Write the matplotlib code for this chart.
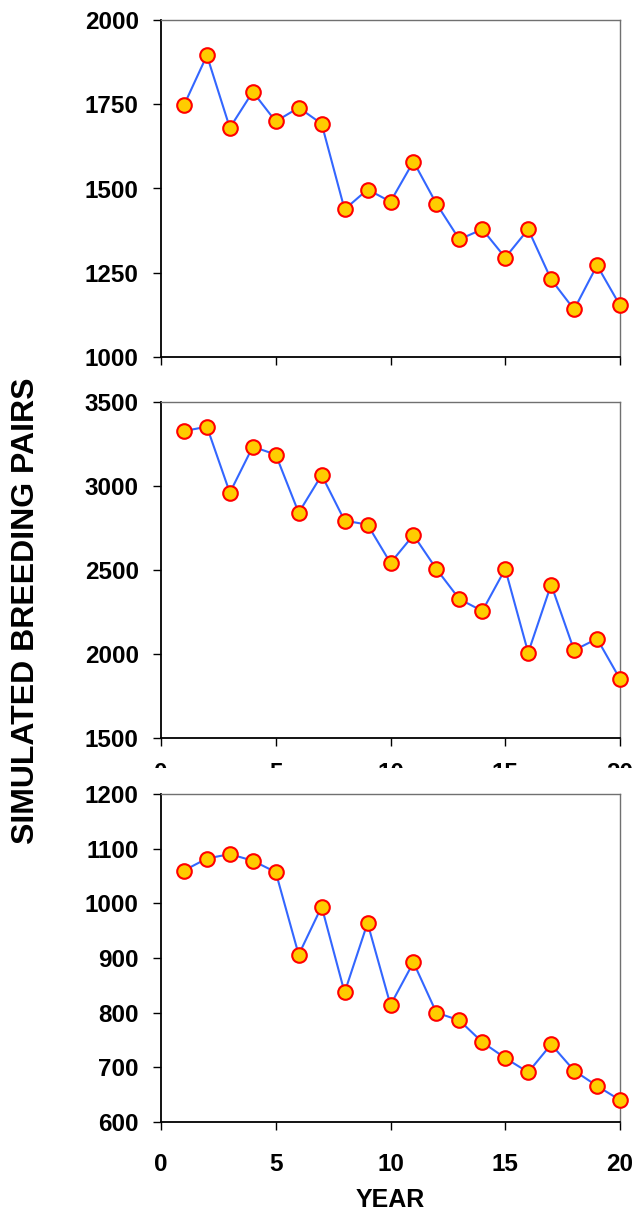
import matplotlib.pyplot as plt
from matplotlib.patches import Rectangle
from matplotlib.ticker import MultipleLocator

plt.rcParams['font.family'] = ['Liberation Sans', 'DejaVu Sans']
plt.rcParams['font.weight'] = 'bold'

years = list(range(1, 21))

pairs_top = [1747, 1895, 1680, 1787, 1699, 1740, 1692, 1438, 1497, 1461,
             1580, 1455, 1349, 1379, 1295, 1379, 1230, 1141, 1272, 1153]
pairs_mid = [3327, 3353, 2960, 3234, 3187, 2841, 3065, 2794, 2770, 2542,
             2708, 2506, 2327, 2256, 2506, 2008, 2413, 2022, 2091, 1851]
pairs_bot = [1060, 1082, 1090, 1078, 1057, 906, 994, 837, 964, 814,
             892, 800, 786, 746, 717, 691, 742, 694, 666, 640]

ylims = [(1000, 2000, 250), (1500, 3500, 500), (600, 1200, 100)]
series = [pairs_top, pairs_mid, pairs_bot]

W, H = 634, 1213
fig = plt.figure(figsize=(W / 100, H / 100), dpi=100)

# panel boxes in pixels: (top, bottom)
boxes = [(20, 357), (402, 738), (794, 1122)]
left, right = 161, 620

for i, ((top, bottom), vals, (lo, hi, step)) in enumerate(zip(boxes, series, ylims)):
    ax = fig.add_axes([left / W, 1 - bottom / H, (right - left) / W, (bottom - top) / H])
    ax.plot(years, vals, color='#3366FF', lw=1.5, zorder=2)
    ax.plot(years, vals, 'o', ms=10.5, mfc='#FFCC00', mec='#FF0000', mew=1.5,
            zorder=3, clip_on=False)
    ax.set_xlim(0, 20)
    ax.set_ylim(lo, hi)
    ax.xaxis.set_major_locator(MultipleLocator(5))
    ax.yaxis.set_major_locator(MultipleLocator(step))
    ax.tick_params(direction='out', length=6, width=1, labelsize=17.5)
    ax.tick_params(axis='y', pad=10)
    ax.tick_params(axis='x', pad=11 if i == 1 else 16)
    for side in ['left', 'bottom']:
        ax.spines[side].set_linewidth(1.3)
        ax.spines[side].set_color('black')
    for side in ['top', 'right']:
        ax.spines[side].set_linewidth(1.0)
        ax.spines[side].set_color('#707070')
    if i == 0:
        ax.tick_params(axis='x', labelbottom=False)
    if i == 2:
        ax.set_xlabel('YEAR', fontsize=18, fontweight='bold', labelpad=9)

# the lower panel hides most of the middle panel's year labels
cover = Rectangle((145 / W, 1 - 786 / H), 1, 18 / H, transform=fig.transFigure,
                  facecolor='white', edgecolor='none', zorder=10)
fig.patches.append(cover)

fig.text(26 / W, 1 - 611 / H, 'SIMULATED BREEDING PAIRS', rotation=90,
         ha='center', va='center', fontsize=23, fontweight='bold')

fig.savefig('out.png', dpi=100)
